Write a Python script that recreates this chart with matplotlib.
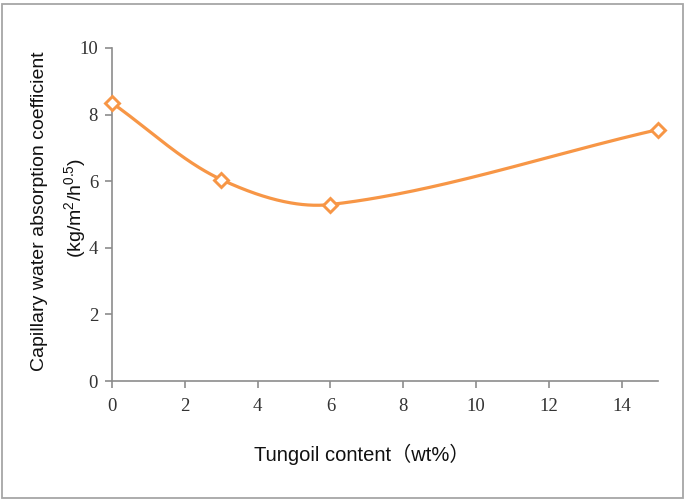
import numpy as np
import matplotlib
matplotlib.use("Agg")
import matplotlib.pyplot as plt
from matplotlib.patches import Rectangle

tung_oil = [0, 3, 6, 15]
absorption = [8.35, 6.05, 5.3, 7.55]
x_ticks = [0, 2, 4, 6, 8, 10, 12, 14]
y_ticks = [0, 2, 4, 6, 8, 10]

COLOR = "#F79646"
GRAY = "#8C8C8C"

plt.rcParams["mathtext.fontset"] = "custom"
plt.rcParams["mathtext.rm"] = "Liberation Sans"
plt.rcParams["mathtext.it"] = "Liberation Sans"

fig = plt.figure(figsize=(6.85, 5.01), dpi=100)
ax = fig.add_axes([112 / 685, 1 - 381 / 501, (658 - 112) / 685, (381 - 48) / 501])
ax.set_xlim(0, 15)
ax.set_ylim(0, 10)


def smooth(xs, ys, n=80):
    # Excel-like smoothed line: Bezier through the points, tangents scaled by
    # neighbouring segment lengths (computed in display space)
    P = ax.transData.transform(np.column_stack([xs, ys]).astype(float))
    d = np.hypot(*np.diff(P, axis=0).T)
    out = []
    t = np.linspace(0, 1, n)[:, None]
    m = len(P)
    for i in range(m - 1):
        p1, p2 = P[i], P[i + 1]
        p0 = P[i - 1] if i > 0 else P[i]
        p3 = P[i + 2] if i + 2 < m else P[i + 1]
        d01 = d[i - 1] if i > 0 else 0.0
        d12 = d[i]
        d23 = d[i + 1] if i + 2 < m else 0.0
        c1 = p1 + (p2 - p0) * d12 / (d01 + d12) / 3.0
        c2 = p2 - (p3 - p1) * d12 / (d12 + d23) / 3.0
        seg = ((1 - t) ** 3) * p1 + 3 * ((1 - t) ** 2) * t * c1 + 3 * (1 - t) * t ** 2 * c2 + t ** 3 * p2
        out.append(seg if i == 0 else seg[1:])
    s = ax.transData.inverted().transform(np.vstack(out))
    return s[:, 0], s[:, 1]


sx, sy = smooth(tung_oil, absorption)
ax.plot(sx, sy, color=COLOR, lw=2.3, solid_capstyle="round", zorder=2)
ax.plot(tung_oil, absorption, linestyle="none", marker="D", markersize=7,
        markerfacecolor="white", markeredgecolor=COLOR, markeredgewidth=2.1, zorder=3,
        clip_on=False)

ax.set_xticks(x_ticks)
ax.set_yticks(y_ticks)
for side in ["top", "right"]:
    ax.spines[side].set_visible(False)
for side in ["left", "bottom"]:
    ax.spines[side].set_color(GRAY)
    ax.spines[side].set_linewidth(1.2)
ax.tick_params(axis="both", direction="out", length=5, width=1.2, color=GRAY,
               labelcolor="#333333", labelsize=13.5, pad=5)
ax.tick_params(axis="x", pad=7)
for lab in ax.get_xticklabels() + ax.get_yticklabels():
    lab.set_family(["Liberation Serif", "DejaVu Serif"])

fig.text(362 / 685, 1 - 454 / 501, "Tungoil content（wt%）", ha="center", va="center",
         fontsize=14.5, family=["Liberation Sans", "Noto Sans CJK SC"], color="#111111")
fig.text(40 / 685, 1 - 211 / 501, "Capillary water absorption coefficient", rotation=90,
         ha="center", va="center", fontsize=14, family=["Liberation Sans", "DejaVu Sans"],
         color="#111111")
fig.text(75 / 685, 1 - 208 / 501, r"(kg/m$^{\rm 2}$/h$^{\rm 0.5}$)", rotation=90,
         ha="center", va="center", fontsize=14, family=["Liberation Sans", "DejaVu Sans"],
         color="#111111")

fig.patches.append(Rectangle((2 / 685, 1 - 498 / 501), 681 / 685, 494 / 501,
                             transform=fig.transFigure, fill=False,
                             edgecolor="#A6A6A6", linewidth=1.3))

fig.savefig("out.png", dpi=100)
